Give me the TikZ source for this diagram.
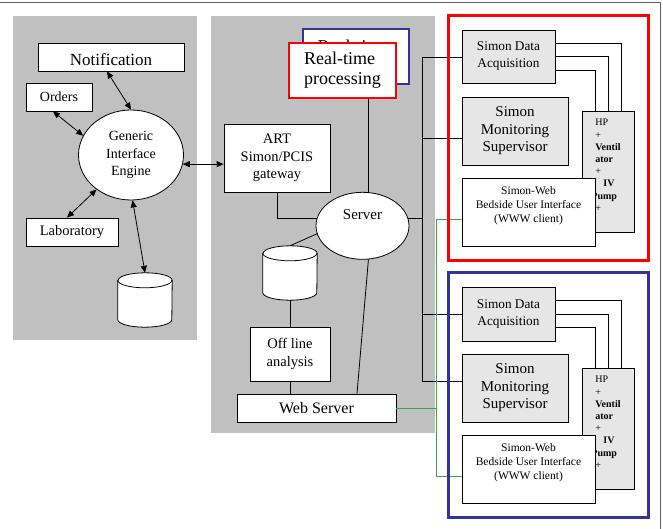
\documentclass[tikz,border=0pt]{standalone}
\usepackage{fontspec}
\setmainfont{Liberation Serif}
\usetikzlibrary{shapes.geometric,arrows.meta,calc}
\definecolor{panelgray}{HTML}{C0C0C0}
\definecolor{boxgray}{HTML}{E6E6E6}
\definecolor{framered}{HTML}{FF0000}
\definecolor{frameblue}{HTML}{333399}
\definecolor{wiregreen}{HTML}{44A044}
\definecolor{edgegray}{HTML}{606060}
\tikzset{
  box/.style={draw, fill=white, line width=0.8pt, inner sep=0pt, align=center},
  gbox/.style={box, fill=boxgray},
  conn/.style={line width=0.8pt},
  gconn/.style={line width=0.8pt, draw=wiregreen},
  biarrow/.style={conn, {Triangle[length=7pt,width=6pt]}-{Triangle[length=7pt,width=6pt]}},
  dbslot/.style={inner sep=0pt, minimum width=54pt, minimum height=54pt},
  capr/.style={x radius=27pt, y radius=7.5pt},
  fA/.style={font=\fontsize{17}{20}\selectfont},
  fB/.style={font=\fontsize{14}{17.5}\selectfont},
  fC/.style={font=\fontsize{14.5}{17.5}\selectfont},
  fD/.style={font=\fontsize{15}{17.5}\selectfont},
  fE/.style={font=\fontsize{18}{20}\selectfont},
  fF/.style={font=\fontsize{16}{19}\selectfont},
  fG/.style={font=\fontsize{13.3}{17}\selectfont},
  fH/.style={font=\fontsize{11.5}{14}\selectfont},
  fI/.style={font=\fontsize{10}{12.2}\selectfont},
}
% draws a cylinder filling the named (invisible) node
\newcommand\dbcyl[1]{%
  \filldraw[conn, fill=white] ($(#1.north west)+(0,7.5)$) -- ($(#1.south west)+(0,-7.5)$)
    arc[start angle=180, end angle=360, capr] -- ($(#1.north east)+(0,7.5)$)
    arc[start angle=0, end angle=180, capr] -- cycle;
  \draw[conn] ($(#1.north west)+(0,7.5)$) arc[start angle=180, end angle=360, capr];%
}
\begin{document}
\begin{tikzpicture}[x=1pt,y=-1pt]
\useasboundingbox (0,0) rectangle (663,529);
% outer edge lines
\draw[edgegray, line width=1pt] (0,3) -- (660,3) -- (660,529);
% panels
\fill[panelgray] (13,16) rectangle (197,340);
\fill[panelgray] (211,16) rectangle (435,433);

% ---- left panel ----
\node[box, fA, minimum width=146pt, minimum height=28pt, text height=17.6pt, text depth=0pt] (notif) at (111,57) {Notification};
\node[box, fB, minimum width=66pt, minimum height=28pt] (orders) at (59,97) {Orders};
\node[box, ellipse, fB, minimum width=105pt, minimum height=90pt] (gie) at (131,155) {Generic\\Interface\\Engine};
\node[box, fC, minimum width=92pt, minimum height=28pt] (lab) at (72,232) {Laboratory};
\node[dbslot] (dbL) at (145,300) {};
\dbcyl{dbL}

\draw[biarrow] ([xshift=-4pt]notif.south) -- (gie.north);
\draw[biarrow] ([xshift=-6pt]orders.south) -- (gie.158);
\draw[biarrow] ([xshift=-5pt]lab.north) -- (gie.225);
\draw[biarrow] (dbL.north) -- (gie.272);

% ---- middle panel ----
\node[box, draw=frameblue, line width=1.6pt, fE, align=left, minimum width=106pt, minimum height=55pt] (rtb) at (356,56.5) {Real-time\\\mbox{}\hphantom{processing}};
\node[box, draw=framered, line width=1.6pt, fE, align=left, minimum width=107pt, minimum height=55pt] (rt) at (342.5,70.5) {Real-time\\processing};
\node[box, fC, minimum width=106pt, minimum height=68pt] (art) at (277,158) {ART\\Simon/PCIS\\gateway};
\node[box, ellipse, fD, minimum width=93pt, minimum height=67pt, text height=10pt, text depth=22pt] (server) at (362.5,225.8) {Server};
\node[dbslot] (dbM) at (290,273) {};
\node[box, fC, minimum width=80pt, minimum height=54pt] (off) at (290,354) {Off line\\analysis};
\node[box, fF, minimum width=159pt, minimum height=28pt] (web) at (316.5,408) {Web Server};

\draw[biarrow] (gie.350) -- (gie.350 -| art.west);
\draw[conn] (server.80) -- (server.80 |- rt.south);
\draw[conn] (art.south) |- (server.171);
\draw[conn] (dbM.north) -- (server.190);
\dbcyl{dbM}
\draw[conn] (dbM.south) -- (off.north);
\draw[conn] (off.south) -- (off.south |- web.north);
\draw[conn] (server.280) -- ([xshift=40.5pt]web.north);

% ---- right groups ----
\node[gbox, fG, minimum width=93pt, minimum height=53pt] (sda1) at (508.5,56.5) {Simon Data\\Acquisition};
\node[gbox, fD, minimum width=106pt, minimum height=68pt] (sms1) at (515,131) {Simon\\Monitoring\\Supervisor};
\node[gbox, fI, align=left, minimum width=52pt, minimum height=121pt] (hp1) at (608,171.5) {HP\\+\\\textbf{Ventil}\\\textbf{ator}\\+\\\hspace*{8pt}\textbf{IV}\\\hspace*{-4pt}\textbf{Pump}\\+\\\mbox{}};
\draw[conn] ([yshift=13.5pt]sda1.east) -| ([xshift=13pt]hp1.north);
\draw[conn] (sda1.east) -| (hp1.north);
\draw[conn] ([yshift=-13.5pt]sda1.east) -| ([xshift=-13pt]hp1.north);
\node[box, fH, minimum width=133pt, minimum height=68pt] (sw1) at (528.5,212) {Simon-Web\\Bedside User Interface\\(WWW client)\\\mbox{}};

\node[gbox, fG, minimum width=93pt, minimum height=54pt] (sda2) at (508.5,314) {Simon Data\\Acquisition};
\node[gbox, fD, minimum width=106pt, minimum height=68pt] (sms2) at (515,388) {Simon\\Monitoring\\Supervisor};
\node[gbox, fI, align=left, minimum width=52pt, minimum height=121pt] (hp2) at (608,428.5) {HP\\+\\\textbf{Ventil}\\\textbf{ator}\\+\\\hspace*{8pt}\textbf{IV}\\\hspace*{-4pt}\textbf{Pump}\\+\\\mbox{}};
\draw[conn] ([yshift=13.5pt]sda2.east) -| ([xshift=13pt]hp2.north);
\draw[conn] (sda2.east) -| (hp2.north);
\draw[conn] ([yshift=-13.5pt]sda2.east) -| ([xshift=-13pt]hp2.north);
\node[box, fH, minimum width=133pt, minimum height=68pt] (sw2) at (528.5,469) {Simon-Web\\Bedside User Interface\\(WWW client)\\\mbox{}};

% bus
\coordinate (bt) at (422,57);
\coordinate (b2) at (422,138);
\coordinate (b4) at (422,314);
\coordinate (bb) at (422,381);
\draw[conn] (bt) -- (bb);
\draw[conn] (bt) -- (bt -| sda1.west);
\draw[conn] (b2) -- (b2 -| sms1.west);
\draw[conn] (server.9) -- (server.9 -| bt);
\draw[conn] (b4) -- (b4 -| sda2.west);
\draw[conn] (bb) -- (bb -| sms2.west);

% green web links
\coordinate (g1) at (436,219);
\coordinate (g2) at (436,476);
\draw[gconn] (web.east) -- (web.east -| g1);
\draw[gconn] (g1) -- (g2);
\draw[gconn] (g1) -- (g1 -| sw1.west);
\draw[gconn] (g2) -- (g2 -| sw2.west);

% frames
\draw[framered, line width=3pt] (448,16) rectangle (648,260);
\draw[frameblue, line width=3pt] (448,272) rectangle (648,517);
\end{tikzpicture}
\end{document}
